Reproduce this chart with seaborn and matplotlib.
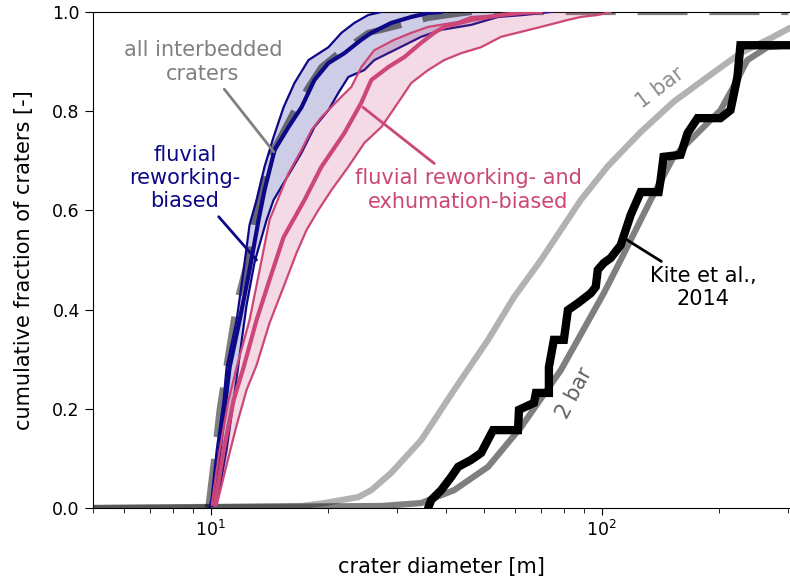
import numpy as np
import pandas as pd
import matplotlib
matplotlib.use("Agg")
import matplotlib.pyplot as plt
import seaborn as sns

# ---------------- data ----------------
# model CDFs (atmospheric pressure)
bar1_d = [5, 17.07, 19.54, 23.86, 25.75, 28.96, 34.54, 41.93, 51.2, 59.65, 69.91, 88.42,
          103.6, 125.8, 152.7, 186.4, 226.3, 274.7, 303]
bar1_f = [0, 0.004, 0.010, 0.022, 0.036, 0.071, 0.137, 0.238, 0.339, 0.425, 0.5, 0.621,
          0.689, 0.758, 0.819, 0.869, 0.917, 0.95, 0.968]

bar2_d = [5, 27.31, 34.54, 41.93, 51.2, 62.18, 78.6, 101.2, 111.8, 133.4, 152.7, 201.2,
          217.1, 235.7, 265.2, 303]
bar2_f = [0, 0.004, 0.010, 0.036, 0.083, 0.163, 0.278, 0.433, 0.5, 0.621, 0.708, 0.802,
          0.849, 0.903, 0.929, 0.933]

# Kite et al., 2014
kite_d = [35.98, 36.63, 38.85, 41.2, 42.94, 46.34, 49.14, 52.74, 61.07, 61.43, 67.08, 67.87,
          73.26, 73.26, 75.44, 80.0, 81.93, 86.88, 93.74, 96.54, 97.68, 101.2, 105.4, 111.8,
          115.1, 118.6, 125.8, 139.8, 141.4, 143.9, 159.1, 165.8, 175.8, 201.2, 213.4, 222.3,
          226.3, 303]
kite_f = [0.0, 0.016, 0.036, 0.0625, 0.083, 0.097, 0.111, 0.157, 0.157, 0.198, 0.212, 0.232,
          0.232, 0.284, 0.339, 0.339, 0.399, 0.413, 0.433, 0.446, 0.480, 0.494, 0.504, 0.530,
          0.560, 0.591, 0.637, 0.637, 0.661, 0.708, 0.712, 0.756, 0.786, 0.786, 0.802, 0.869,
          0.933, 0.933]

# all interbedded craters
all_d = [9.77, 9.88, 10.18, 10.54, 11.11, 11.65, 12.35, 13.10, 13.73, 14.48, 15.17, 16.38,
         17.78, 19.19, 21.21, 23.30, 25.29, 27.31, 30.71, 35.98, 40.48, 46.34, 300]
all_f = [0.0, 0.006, 0.091, 0.198, 0.313, 0.413, 0.490, 0.601, 0.671, 0.722, 0.752, 0.802,
         0.849, 0.889, 0.917, 0.938, 0.958, 0.964, 0.974, 0.988, 0.994, 1.0, 1.0]

# fluvial reworking-biased
fr_d = [10.18, 10.54, 10.92, 11.18, 11.86, 12.57, 13.26, 13.73, 14.57, 15.81, 17.07, 18.42,
        20.0, 21.97, 24.27, 25.75, 28.96, 32.58, 35.98, 38.85]
fr_f = [0.006, 0.117, 0.218, 0.284, 0.379, 0.480, 0.581, 0.641, 0.722, 0.768, 0.808, 0.863,
        0.897, 0.917, 0.944, 0.958, 0.978, 0.990, 0.998, 1.0]
fr_hi_d = [9.94, 10.06, 10.36, 10.79, 10.98, 11.65, 12.14, 12.57, 13.10, 13.73, 14.48, 15.36,
           16.38, 17.78, 20.0, 21.59, 23.30, 25.29, 27.31]
fr_hi_f = [0.0, 0.022, 0.117, 0.218, 0.284, 0.379, 0.480, 0.571, 0.621, 0.688, 0.748, 0.808,
           0.857, 0.903, 0.929, 0.958, 0.978, 0.994, 1.0]
fr_lo_d = [10.36, 10.98, 11.45, 11.86, 12.35, 12.95, 13.90, 14.48, 15.63, 17.07, 18.42, 20.0,
           21.21, 22.49, 24.71, 26.20, 29.48, 34.54, 38.85, 46.34, 54.30, 63.24, 74.14]
fr_lo_f = [0.010, 0.117, 0.218, 0.308, 0.409, 0.496, 0.581, 0.621, 0.665, 0.716, 0.768, 0.802,
           0.837, 0.869, 0.883, 0.903, 0.923, 0.950, 0.964, 0.974, 0.990, 0.994, 1.0]

# fluvial reworking- and exhumation-biased
fe_d = [10.24, 10.79, 11.45, 12.14, 13.10, 14.14, 15.36, 17.37, 19.19, 21.97, 24.27, 25.75,
        28.46, 31.26, 34.54, 37.28, 39.54, 46.34, 55.26, 62.18, 69.91]
fe_f = [0.006, 0.117, 0.218, 0.284, 0.379, 0.460, 0.546, 0.621, 0.688, 0.756, 0.817, 0.863,
        0.889, 0.909, 0.938, 0.958, 0.970, 0.984, 0.994, 0.998, 1.0]
fe_hi_d = [10.06, 10.54, 11.11, 11.65, 12.57, 13.34, 14.14, 15.81, 17.07, 18.10, 19.19, 21.21,
           22.89, 24.27, 26.20, 29.48, 32.58, 35.98, 42.94, 46.34, 55.26, 65.91]
fe_hi_f = [0.006, 0.117, 0.218, 0.284, 0.379, 0.480, 0.581, 0.675, 0.722, 0.762, 0.788, 0.823,
           0.849, 0.889, 0.923, 0.944, 0.958, 0.970, 0.980, 0.990, 0.994, 1.0]
fe_lo_d = [10.36, 10.98, 11.65, 12.35, 13.10, 14.14, 15.36, 16.57, 17.57, 18.86, 20.36, 22.49,
           24.71, 27.31, 29.48, 32.58, 35.98, 39.54, 43.70, 49.14, 55.26, 62.18, 69.91, 81.93,
           88.42, 97.68, 105.4]
fe_lo_f = [0.006, 0.087, 0.167, 0.238, 0.288, 0.373, 0.446, 0.514, 0.560, 0.601, 0.641, 0.688,
           0.736, 0.768, 0.806, 0.857, 0.883, 0.903, 0.917, 0.929, 0.950, 0.960, 0.970, 0.984,
           0.990, 0.994, 1.0]

yticks = [0.0, 0.2, 0.4, 0.6, 0.8, 1.0]

NAVY = "#0d0887"
PINK = "#cc4778"

# ---------------- figure ----------------
sns.set_style("ticks")
plt.rcParams["font.family"] = ["DejaVu Sans"]
plt.rcParams["xtick.major.size"] = 5
plt.rcParams["xtick.minor.size"] = 3.5
plt.rcParams["ytick.major.size"] = 6
plt.rcParams["xtick.color"] = "black"
plt.rcParams["ytick.color"] = "black"
plt.rcParams["axes.labelcolor"] = "black"
plt.rcParams["axes.edgecolor"] = "black"

fig = plt.figure(figsize=(7.9, 5.83), dpi=100)
ax = fig.add_axes([93 / 790, 75 / 583, 697 / 790, 496 / 583])


def line(x, y, **kw):
    sns.lineplot(x=x, y=y, ax=ax, sort=False, estimator=None, **kw)


# model curves
line(bar1_d, bar1_f, color="k", alpha=0.3, lw=4.5, zorder=2)
line(bar2_d, bar2_f, color="k", alpha=0.5, lw=4.5, zorder=2)

# Kite et al.
line(kite_d, kite_f, color="k", lw=6, zorder=3, solid_joinstyle="miter")

# all interbedded craters
line(all_d, all_f, color="k", alpha=0.5, lw=4.5, linestyle=(0, (8, 3.5)), zorder=3)

# fluvial reworking-biased
ax.fill(np.r_[fr_hi_d, fr_lo_d[::-1]], np.r_[fr_hi_f, fr_lo_f[::-1]],
        color=NAVY, alpha=0.2, lw=0, zorder=2.5)
line(fr_hi_d, fr_hi_f, color=NAVY, lw=1.6, zorder=4)
line(fr_lo_d, fr_lo_f, color=NAVY, lw=1.6, zorder=4)
line(fr_d, fr_f, color=NAVY, lw=3, zorder=4)

# fluvial reworking- and exhumation-biased
ax.fill(np.r_[fe_hi_d, fe_lo_d[::-1]], np.r_[fe_hi_f, fe_lo_f[::-1]],
        color=PINK, alpha=0.2, lw=0, zorder=4.5)
line(fe_hi_d, fe_hi_f, color=PINK, lw=1.6, zorder=5)
line(fe_lo_d, fe_lo_f, color=PINK, lw=1.6, zorder=5)
line(fe_d, fe_f, color=PINK, lw=3, zorder=5)

ax.set_xscale("log")
ax.set_xlim(5, 303)
ax.set_ylim(0, 1)
ax.set_yticks(yticks)
ax.tick_params(axis="both", labelsize=12.5)
ax.set_xlabel("crater diameter [m]", fontsize=15, labelpad=12)
ax.set_ylabel("cumulative fraction of craters [-]", fontsize=15, labelpad=13)
ax.spines["right"].set_visible(False)

# annotations
FS = 15
arrow = dict(arrowstyle="-", lw=2, shrinkA=2, shrinkB=0)
ax.annotate("all interbedded\ncraters", xy=(14.5, 0.718), xytext=(9.55, 0.899),
            ha="center", va="center", fontsize=FS, color="#808080",
            arrowprops=dict(arrow, color="#808080"), zorder=6)
ax.annotate("fluvial\nreworking-\nbiased", xy=(13.1, 0.5), xytext=(8.59, 0.665),
            ha="center", va="center", fontsize=FS, color=NAVY,
            arrowprops=dict(arrow, color=NAVY), zorder=6)
ax.annotate("fluvial reworking- and\nexhumation-biased", xy=(24.5, 0.808), xytext=(45.5, 0.641),
            ha="center", va="center", fontsize=FS, color=PINK,
            arrowprops=dict(arrow, color=PINK), zorder=6)
ax.annotate("Kite et al.,\n2014", xy=(113.1, 0.546), xytext=(182, 0.444),
            ha="center", va="center", fontsize=FS, color="k",
            arrowprops=dict(arrow, color="k"), zorder=6)
ax.text(141.4, 0.847, "1 bar", rotation=37, ha="center", va="center",
        fontsize=FS, color="#8c8c8c")
ax.text(85.4, 0.232, "2 bar", rotation=62, ha="center", va="center",
        fontsize=FS, color="#606060")

fig.savefig("out.png", dpi=100)
